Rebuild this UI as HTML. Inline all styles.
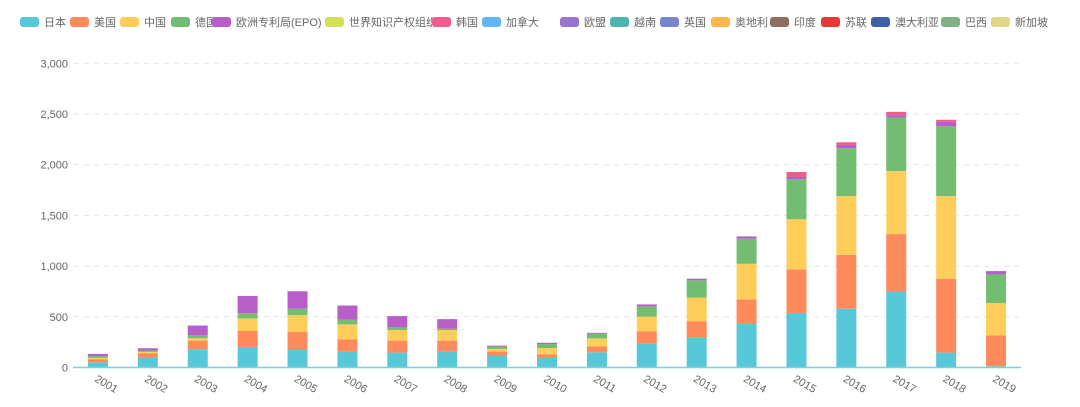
<!DOCTYPE html>
<html><head><meta charset="utf-8">
<style>
html,body{margin:0;padding:0;background:#fff;}
svg{display:block;font-family:"Liberation Sans","Noto Sans CJK SC",sans-serif;}
</style></head>
<body>
<svg id="chart" width="1080" height="407" viewBox="0 0 1080 407" xmlns="http://www.w3.org/2000/svg">
<g id="legend"></g>
<g id="grid"></g>
<g id="yaxis"></g>
<g id="bars"></g>
<g id="xaxis"></g>
</svg>
<script>
const categories = ["2001","2002","2003","2004","2005","2006","2007","2008","2009","2010","2011","2012","2013","2014","2015","2016","2017","2018","2019"];
const seriesNames = ["日本","美国","中国","德国","欧洲专利局(EPO)","世界知识产权组织","韩国","加拿大","欧盟","越南","英国","奥地利","印度","苏联","澳大利亚","巴西","新加坡"];
const seriesColors = ["#56c8d8","#ff8a5b","#ffcd5a","#72bd72","#b85ec8","#d4e157","#ef5b8c","#64b5f6","#9575cd","#4db6ac","#7986cb","#ffb74d","#8d6e63","#e53935","#3f5fa8","#81b184","#e0d688"];
const japan   = [52,98,180,203,177,154,147,157,118,94,150,234,293,430,537,580,749,147,13];
const usa     = [30,43,85,157,176,124,118,108,39,36,58,124,163,241,430,531,567,726,303];
const china   = [13,13,23,124,164,147,105,105,26,62,79,144,234,352,495,579,622,817,319];
const germany = [19,13,32,52,62,46,26,13,23,39,45,101,170,247,394,473,528,688,283];
const epo     = [20,23,92,170,173,140,111,94,10,13,10,19,16,23,23,32,22,45,33];
const wipo    = [0,0,7,0,0,0,0,0,0,0,0,0,0,0,0,0,0,0,0];
const korea   = [0,0,0,0,0,0,0,0,0,0,0,0,0,0,49,26,33,20,0];
const zeros = categories.map(()=>0);
const seriesValues = [japan,usa,china,germany,epo,wipo,korea,zeros,zeros,zeros,zeros,zeros,zeros,zeros,zeros,zeros,zeros];
const yTicks = [0,500,1000,1500,2000,2500,3000];
const yTickLabels = ["0","500","1,000","1,500","2,000","2,500","3,000"];

const NS="http://www.w3.org/2000/svg";
const plotL=73, plotR=1021, plotB=367.5, plotT=63.3, yMax=3000;
const band=(plotR-plotL)/categories.length, barW=20;
const yScale=v=>plotB-(v/yMax)*(plotB-plotT);
const xCenter=i=>plotL+band*(i+0.5);
function mk(tag,attrs,parent){const e=document.createElementNS(NS,tag);for(const k in attrs)e.setAttribute(k,attrs[k]);parent.appendChild(e);return e;}

// legend
const legendX=[20,70,120,171,212,325,432,482,560,610,660,711,770,821,871,941,991];
const lg=document.getElementById('legend');
seriesNames.forEach((n,i)=>{
  const g=mk('g',{},lg);
  
  
  const r=mk('rect',{x:legendX[i],y:17,width:19,height:10,rx:3,fill:seriesColors[i]},g);
  
  
  const t=mk('text',{x:legendX[i]+24,y:26,'font-size':11,fill:'#666'},g);
  
  
  t.textContent=n;
});

// grid + y axis
const gg=document.getElementById('grid'), ya=document.getElementById('yaxis');
yTicks.forEach((v,i)=>{
  const y=yScale(v);
  if(v>0){const l=mk('line',{x1:plotL+1,x2:plotR,y1:y,y2:y,stroke:'#e3e3e3','stroke-dasharray':'5,5'},gg);
    
    }
  const t=mk('text',{x:68,y:y+4,'font-size':11,fill:'#666','text-anchor':'end'},ya);
  
  
  t.textContent=yTickLabels[i];
});

// bars
const bg=document.getElementById('bars');
categories.forEach((c,i)=>{
  let cum=0;
  seriesValues.forEach((arr,s)=>{
    const v=arr[i]; if(!v) return;
    const y0=yScale(cum), y1=yScale(cum+v); cum+=v;
    const r=mk('rect',{x:xCenter(i)-barW/2,y:y1,width:barW,height:y0-y1,fill:seriesColors[s]},bg);
    
    
  });
});

// x axis
const xa=document.getElementById('xaxis');
const al=mk('line',{x1:plotL,x2:plotR,y1:plotB,y2:plotB,stroke:'#7fd0dc','stroke-width':1.5},xa);


categories.forEach((c,i)=>{
  const x=xCenter(i)-4, y=381;
  const t=mk('text',{x:x,y:y,'font-size':11,fill:'#666',transform:`rotate(30 ${x} ${y})`},xa);
  
  
  t.textContent=c;
});
</script>
</body></html>
